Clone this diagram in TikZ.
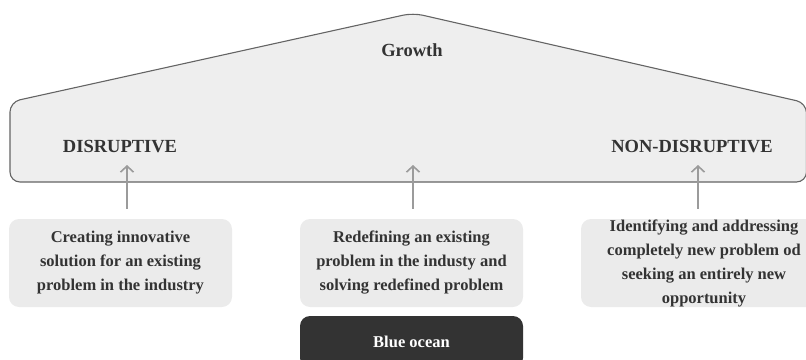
\documentclass[tikz,border=0pt]{standalone}
\usepackage{fontspec}
\setmainfont{Liberation Serif}
\usetikzlibrary{arrows.meta}
\definecolor{houseFill}{RGB}{238,238,238}
\definecolor{cardFill}{RGB}{235,235,235}
\definecolor{inkGray}{RGB}{51,51,51}
\definecolor{lineGray}{RGB}{100,100,100}
\definecolor{arrowGray}{RGB}{155,155,155}
\tikzset{card/.style = {fill=cardFill, rounded corners=10pt, minimum width=223pt, minimum height=88pt, inner sep=0pt, align=center, text=inkGray, font=\bfseries\fontsize{16.5}{24}\selectfont}}
\tikzset{head/.style = {text=inkGray, font=\bfseries\fontsize{18.5}{22}\selectfont}}
\tikzset{uparrow/.style = {-{Straight Barb[length=6pt,width=13pt]}, draw=arrowGray, line width=1.6pt, shorten <=10pt}}

\begin{document}
\begin{tikzpicture}[x=1pt,y=-1pt]
\clip (0,0) rectangle (806,359);
\useasboundingbox (0,0) rectangle (806,359);
% roof
\draw[draw=lineGray, fill=houseFill, line width=1.1pt, rounded corners=10pt]
  (10,182) -- (10,102) -- (413,13) -- (806.5,103) -- (806.5,182) -- cycle;
% labels
\node[head] (growth) at (412,50) {Growth};
\node[head] (disr) at (120,147) {DISRUPTIVE};
\node[head] (nondisr) at (692,147) {NON-DISRUPTIVE};
% cards
\node[card] (left) at (120.5,263) {Creating innovative\\solution for an existing\\problem in the industry};
\node[card] (mid) at (411.5,263) {Redefining an existing\\problem in the industy and\\solving redefined problem};
\node[card, minimum width=246pt] (right) at (704,263) {Identifying and addressing\\completely new problem od\\seeking an entirely new\\opportunity};
\node[card, fill=inkGray, text=white, minimum height=52pt] (blue) at (411.5,342) {Blue ocean};
% arrows
\coordinate (tipL) at (127,165);
\coordinate (tipM) at (413,165);
\coordinate (tipR) at (698,165);
\draw[uparrow] (left.north -| tipL) -- (tipL);
\draw[uparrow] (mid.north -| tipM) -- (tipM);
\draw[uparrow] (right.north -| tipR) -- (tipR);
\end{tikzpicture}
\end{document}
